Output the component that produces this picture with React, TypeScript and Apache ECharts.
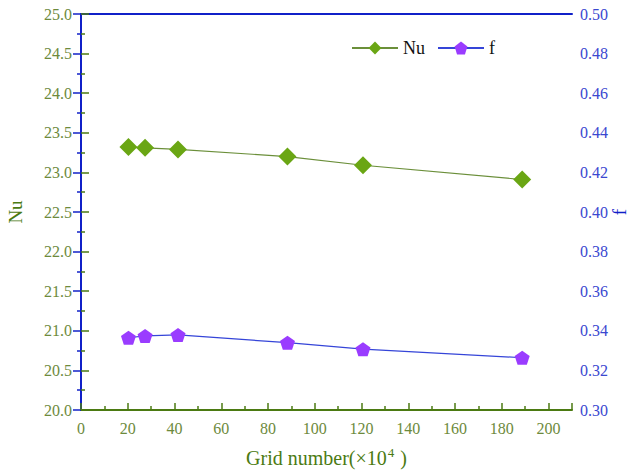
import React, { useEffect, useRef } from "react";
import * as echarts from "echarts";

const gridNumbers = [20.3, 27.4, 41.5, 88.3, 120.6, 188.7];
const nuValues = [23.32, 23.31, 23.29, 23.2, 23.09, 22.91];
const fValues = [0.3365, 0.3374, 0.3379, 0.334, 0.3307, 0.3264];

const pentagon = "path://M0,-10 L9.51,-3.09 L5.88,8.09 L-5.88,8.09 L-9.51,-3.09 Z";
const serif = "'Liberation Serif', 'DejaVu Serif', serif";

export default function App() {
  const ref = useRef<HTMLDivElement>(null);
  useEffect(() => {
    if (!ref.current) return;
    document.body.style.margin = "0";
    document.body.style.overflow = "hidden";
    document.documentElement.style.overflow = "hidden";
    const chart = echarts.init(ref.current, null, { renderer: "svg", width: 633, height: 474 });
    const green = "#4b7a12";
    const greenText = "#6d8a3c";
    const blue = "#1020c8";
    const blueText = "#3a48d0";
    chart.setOption({
      animation: false,
      backgroundColor: "#ffffff",
      grid: { left: 81, right: 61, top: 14, bottom: 64, containLabel: false, outerBoundsMode: "none" },
      legend: {
        top: 34,
        left: 346,
        itemWidth: 46,
        itemHeight: 16,
        itemGap: 12,
        textStyle: { fontFamily: serif, fontSize: 18, color: "#111" },
        data: ["Nu", "f"],
      },
      graphic: [
        {
          type: "text",
          x: 619,
          y: 212,
          rotation: Math.PI / 2,
          style: {
            text: "f",
            fontFamily: serif,
            fontSize: 19,
            fill: blue,
            align: "center",
            verticalAlign: "middle",
          },
        },
      ],
      xAxis: [
        {
          type: "value",
          min: 0,
          max: 210,
          interval: 20,
          position: "bottom",
          name: "Grid number(×10{sup|4} )",
          nameLocation: "middle",
          nameGap: 36,
          nameTextStyle: {
            fontFamily: serif,
            fontSize: 20,
            color: green,
            rich: { sup: { fontFamily: serif, fontSize: 13, color: green, verticalAlign: "top", padding: [0, 1, 10, 1] } },
          },
          axisLine: { show: true, onZero: false, lineStyle: { color: green, width: 2 } },
          axisTick: { show: true, inside: true, length: 7, lineStyle: { color: green, width: 1.5 } },
          minorTick: { show: true, splitNumber: 2, length: 4, lineStyle: { color: green, width: 1.5 } },
          axisLabel: {
            fontFamily: serif,
            fontSize: 16,
            color: greenText,
            margin: 10,
            showMaxLabel: false,
            formatter: (v: number) => (v > 200 ? "" : String(v)),
          },
          splitLine: { show: false },
        },
        {
          type: "value",
          min: 0,
          max: 210,
          position: "top",
          axisLine: { show: true, onZero: false, lineStyle: { color: blue, width: 2 } },
          axisTick: { show: false },
          axisLabel: { show: false },
          splitLine: { show: false },
        },
      ],
      yAxis: [
        {
          type: "value",
          min: 20,
          max: 25,
          interval: 0.5,
          position: "left",
          name: "Nu",
          nameLocation: "middle",
          nameGap: 56,
          nameRotate: 90,
          nameTextStyle: { fontFamily: serif, fontSize: 19, color: green },
          axisLine: { show: true, lineStyle: { color: green, width: 2 } },
          axisTick: { show: true, inside: true, length: 8, lineStyle: { color: green, width: 1.5 } },
          minorTick: { show: true, splitNumber: 2, length: 4, lineStyle: { color: green, width: 1.5 } },
          axisLabel: {
            fontFamily: serif,
            fontSize: 16,
            color: greenText,
            margin: 9,
            formatter: (v: number) => v.toFixed(1),
          },
          splitLine: { show: false },
        },
        {
          type: "value",
          min: 0.3,
          max: 0.5,
          interval: 0.02,
          position: "right",
          axisLine: { show: true, lineStyle: { color: blue, width: 2 } },
          axisTick: { show: true, inside: true, length: 8, lineStyle: { color: blue, width: 1.5 } },
          minorTick: { show: true, splitNumber: 2, length: 4, lineStyle: { color: blue, width: 1.5 } },
          axisLabel: {
            fontFamily: serif,
            fontSize: 16,
            color: blueText,
            margin: 8,
            formatter: (v: number) => v.toFixed(2),
          },
          splitLine: { show: false },
        },
      ],
      series: [
        {
          name: "Nu",
          type: "line",
          xAxisIndex: 0,
          yAxisIndex: 0,
          data: gridNumbers.map((x, i) => [x, nuValues[i]]),
          symbol: "diamond",
          symbolSize: [18, 18],
          itemStyle: { color: "#6aa614" },
          lineStyle: { color: "#6b8f3a", width: 1.2 },
        },
        {
          name: "f",
          type: "line",
          xAxisIndex: 0,
          yAxisIndex: 1,
          data: gridNumbers.map((x, i) => [x, fValues[i]]),
          symbol: pentagon,
          symbolSize: [15, 14],
          itemStyle: { color: "#9a3cff" },
          lineStyle: { color: "#3545d8", width: 1.2 },
        },
      ],
    });
    return () => chart.dispose();
  }, []);
  return <div ref={ref} style={{ width: 633, height: 474, position: "fixed", left: 0, top: 0 }} />;
}
